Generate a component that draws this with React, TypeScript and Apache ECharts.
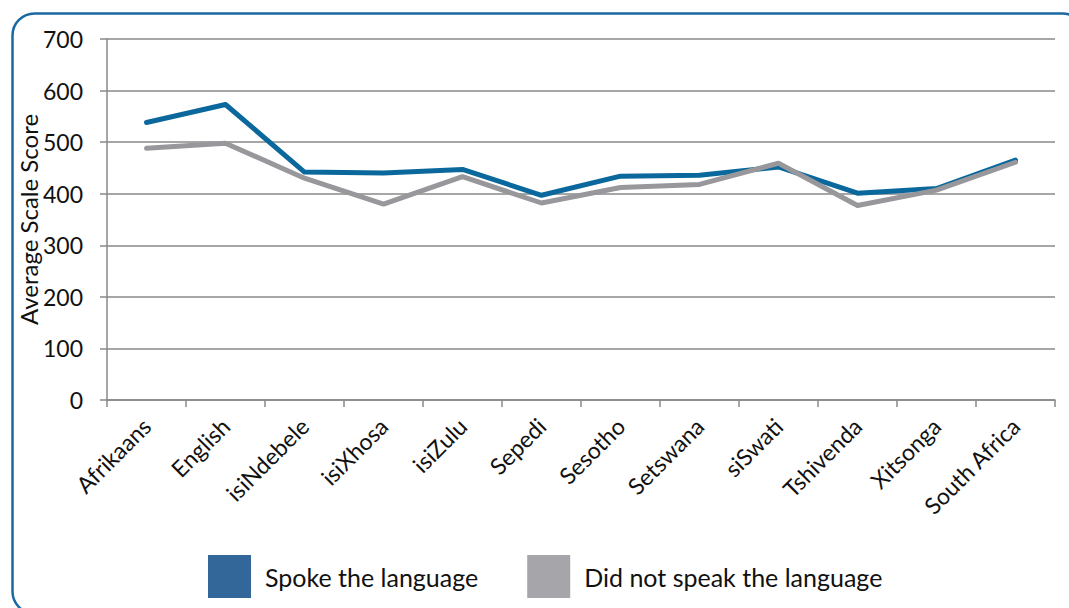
import React, { useEffect, useRef } from "react";
import * as echarts from "echarts";

const categories = ["Afrikaans", "English", "isiNdebele", "isiXhosa", "isiZulu", "Sepedi", "Sesotho", "Setswana", "siSwati", "Tshivenda", "Xitsonga", "South Africa"];
const spoke = [538, 573, 442, 440, 447, 397, 434, 436, 452, 401, 410, 465];
const didNotSpeak = [488, 498, 430, 380, 433, 382, 412, 418, 459, 377, 407, 461];
const seriesNames = ["Spoke the language", "Did not speak the language"];
const yTicks = { min: 0, max: 700, interval: 100 };

const FONT = "Lato, 'Open Sans', sans-serif";

export default function App() {
  const ref = useRef<HTMLDivElement>(null);
  useEffect(() => {
    document.body.style.margin = "0";
    const chart = echarts.init(ref.current!, null, { renderer: "svg" });
    chart.setOption({
      animation: false,
      backgroundColor: "#ffffff",
      grid: { left: 107, right: 14, top: 39, bottom: 208, containLabel: false },
      xAxis: {
        type: "category",
        data: categories,
        boundaryGap: true,
        axisLine: { show: true, lineStyle: { color: "#888888", width: 1.5 } },
        axisTick: { show: true, length: 7, alignWithLabel: false, lineStyle: { color: "#888888", width: 1.5 } },
        axisLabel: { rotate: 45, fontSize: 23, color: "#111111", fontFamily: FONT, margin: 22, interval: 0 },
        splitLine: { show: false },
      },
      yAxis: {
        type: "value",
        min: yTicks.min,
        max: yTicks.max,
        interval: yTicks.interval,
        name: "Average Scale Score",
        nameLocation: "middle",
        nameGap: 67,
        nameMoveOverlap: false,
        nameTextStyle: { fontSize: 24, color: "#111111", fontFamily: FONT },
        axisLine: { show: true, lineStyle: { color: "#888888", width: 1.5 } },
        axisTick: { show: true, length: 7, lineStyle: { color: "#888888", width: 1.5 } },
        axisLabel: { fontSize: 23, color: "#111111", fontFamily: FONT, margin: 24 },
        splitLine: { show: true, lineStyle: { color: "#888888", width: 1.5 } },
      },
      legend: {
        left: 208,
        top: 555,
        padding: 0,
        icon: "rect",
        itemWidth: 43,
        itemHeight: 43,
        itemGap: 49,
        textStyle: { fontSize: 25, color: "#111111", fontFamily: FONT, padding: [0, 0, 0, 9] },
        data: [
          { name: seriesNames[0], itemStyle: { color: "#336699" } },
          { name: seriesNames[1], itemStyle: { color: "#a6a6aa" } },
        ],
      },
      series: [
        {
          name: seriesNames[0],
          type: "line",
          data: spoke,
          symbol: "none",
          lineStyle: { color: "#0b689c", width: 5, cap: "round", join: "round" },
          itemStyle: { color: "#0b689c" },
          z: 2,
        },
        {
          name: seriesNames[1],
          type: "line",
          data: didNotSpeak,
          symbol: "none",
          lineStyle: { color: "#98989c", width: 5, cap: "round", join: "round" },
          itemStyle: { color: "#98989c" },
          z: 3,
        },
      ],
      graphic: [
        {
          type: "rect",
          left: 10,
          top: 11,
          shape: { x: 0, y: 0, width: 1072, height: 600, r: 22 },
          style: { fill: "none", stroke: "#1a6aa0", lineWidth: 2.5 },
          silent: true,
          z: 10,
        },
      ],
    });
    return () => chart.dispose();
  }, []);
  return <div ref={ref} style={{ width: 1069, height: 608 }} />;
}
